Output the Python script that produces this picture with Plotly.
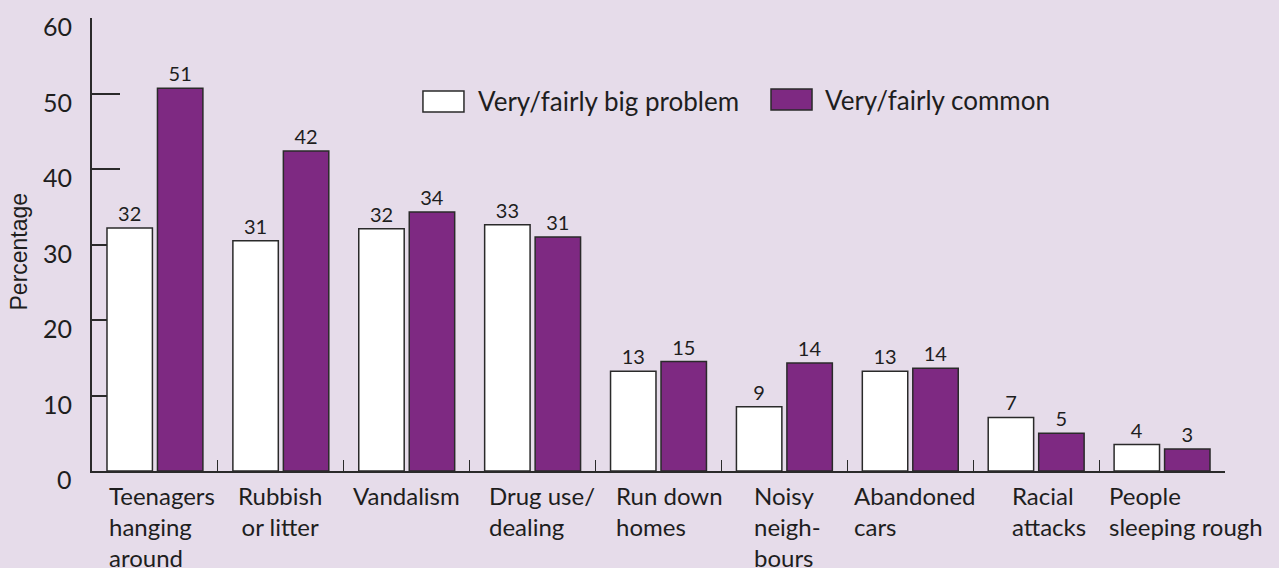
import plotly.graph_objects as go

# ---- data ----
categories = ["Teenagers hanging around", "Rubbish or litter", "Vandalism",
              "Drug use/ dealing", "Run down homes", "Noisy neighbours",
              "Abandoned cars", "Racial attacks", "People sleeping rough"]
category_labels = ["Teenagers<br>hanging<br>around", "Rubbish<br>or litter", "Vandalism",
                   "Drug use/<br>dealing", "Run down<br>homes", "Noisy<br>neigh-<br>bours",
                   "Abandoned<br>cars", "Racial<br>attacks", "People<br>sleeping rough"]
big_problem = [32.2, 30.5, 32.1, 32.6, 13.2, 8.5, 13.2, 7.1, 3.5]
big_problem_labels = ["32", "31", "32", "33", "13", "9", "13", "7", "4"]
common = [50.7, 42.4, 34.3, 31.0, 14.5, 14.3, 13.6, 5.0, 2.9]
common_labels = ["51", "42", "34", "31", "15", "14", "14", "5", "3"]
y_ticks = [0, 10, 20, 30, 40, 50, 60]
series_names = ["Very/fairly big problem", "Very/fairly common"]

# ---- styles ----
BG = "#e6dcea"
PURPLE = "#7e2982"
LINE = "#2a2a2a"
TXT = "#1e1e1e"
FONT = "Lato"
label_anchor = ["left", "center", "left", "left", "left", "left", "left", "left", "left"]
label_shift = [-48, -1, -56, -46, -45, -32, -58, -26, -55]

fig = go.Figure()
fig.add_trace(go.Bar(
    x=categories, y=big_problem, name=series_names[0],
    marker=dict(color="white", line=dict(color=LINE, width=1.5)),
    text=big_problem_labels, texttemplate="%{text}", textposition="outside",
    textfont=dict(family=FONT, size=20, color=TXT), cliponaxis=False,
    showlegend=False))
fig.add_trace(go.Bar(
    x=categories, y=common, name=series_names[1],
    marker=dict(color=PURPLE, line=dict(color=LINE, width=1.5)),
    text=common_labels, texttemplate="%{text}", textposition="outside",
    textfont=dict(family=FONT, size=20, color=TXT), cliponaxis=False,
    showlegend=False))

annotations = []
# category labels
for cat, lab, anc, sh in zip(categories, category_labels, label_anchor, label_shift):
    annotations.append(dict(x=cat, y=0, xref="x", yref="y", text=lab, showarrow=False,
                            xanchor=anc, yanchor="top", align=anc, xshift=sh, yshift=-8,
                            font=dict(family=FONT, size=24, color=TXT)))
# y tick labels
for t in y_ticks:
    annotations.append(dict(x=0, y=t, xref="paper", yref="y", text=str(t), showarrow=False,
                            xanchor="right", yanchor="middle", xshift=-18, yshift=-8,
                            font=dict(family=FONT, size=25, color=TXT)))
# legend text
annotations.append(dict(x=0.3389, y=0.8168, xref="paper", yref="paper", text=series_names[0],
                        showarrow=False, xanchor="left", yanchor="middle",
                        font=dict(family=FONT, size=26, color=TXT)))
annotations.append(dict(x=0.6452, y=0.8190, xref="paper", yref="paper", text=series_names[1],
                        showarrow=False, xanchor="left", yanchor="middle",
                        font=dict(family=FONT, size=26, color=TXT)))
# y axis title
annotations.append(dict(x=0, y=30, xref="paper", yref="y", text="Percentage", showarrow=False,
                        textangle=-90, xanchor="center", yanchor="middle", xshift=-74, yshift=-7,
                        font=dict(family="Liberation Sans", size=23, color=TXT)))

shapes = [
    dict(type="rect", xref="paper", yref="paper", x0=0.2921, x1=0.3283, y0=0.7925, y1=0.8389,
         fillcolor="white", line=dict(color=LINE, width=1.5)),
    dict(type="rect", xref="paper", yref="paper", x0=0.5993, x1=0.6355, y0=0.797, y1=0.8433,
         fillcolor=PURPLE, line=dict(color=LINE, width=1.5)),
]

fig.update_layout(
    width=1279, height=568,
    paper_bgcolor=BG, plot_bgcolor=BG,
    margin=dict(l=92, r=54, t=18, b=97),
    barmode="group", bargap=0.198, bargroupgap=0.1,
    annotations=annotations, shapes=shapes,
    showlegend=False,
    font=dict(family=FONT, color=TXT),
)
fig.update_xaxes(range=[-0.5, 8.5], showline=True, linecolor=LINE, linewidth=1.5,
                 ticks="inside", ticklen=11, tickwidth=1.2, tickcolor=LINE,
                 tickson="boundaries", showticklabels=False, showgrid=False,
                 zeroline=False, layer="below traces", fixedrange=True)
fig.update_yaxes(range=[0, 60], tickvals=y_ticks, showline=True, linecolor=LINE, linewidth=1.5,
                 ticks="inside", ticklen=28, tickwidth=1.5, tickcolor=LINE,
                 showticklabels=False, showgrid=False, zeroline=False,
                 layer="below traces", fixedrange=True)

fig.write_html("out.html")
